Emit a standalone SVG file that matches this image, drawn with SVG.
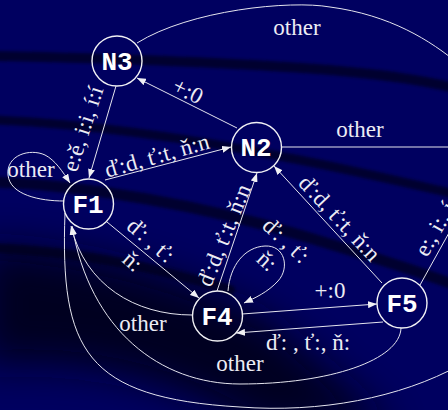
<svg xmlns="http://www.w3.org/2000/svg" width="448" height="410" viewBox="0 0 448 410">
<defs>
<style>
.e{fill:none;stroke:#e4e4ee;stroke-width:1}
.n{fill:none;stroke:#f0f0f4;stroke-width:1.4}
.lbl{font-family:"Liberation Serif","Times New Roman",serif;font-size:23px;fill:#ececf4}
.c{text-anchor:middle}
.nl{font-family:"Liberation Mono","Courier New",monospace;font-weight:bold;font-size:26px;fill:#ffffff;text-anchor:middle}
.band{fill:none;stroke:#000018;stroke-linecap:round}
</style>
<marker id="ah" viewBox="0 0 9 7" refX="9" refY="3.5" markerWidth="9" markerHeight="7" markerUnits="userSpaceOnUse" orient="auto">
<path d="M0,0 L9,3.5 L0,7 z" fill="#f0f0f4"/>
</marker>
<filter id="blur" x="-50%" y="-50%" width="200%" height="200%"><feGaussianBlur stdDeviation="20"/></filter>
<filter id="blur2" x="-10%" y="-50%" width="120%" height="200%"><feGaussianBlur stdDeviation="1.5"/></filter>
</defs>
<g id="background">
<rect x="0" y="0" width="448" height="410" fill="#000060"/>
<path d="M-20,245 C100,252 200,285 270,322 L395,430 L260,430 C190,385 100,355 -20,365 Z" fill="#000012" opacity="0.85" filter="url(#blur)"/>
<g filter="url(#blur2)" opacity="0.65">
<path class="band" stroke-width="10" d="M-5,56 C100,58 224,62 330,70 C390,75 430,82 455,88"/>
<path class="band" stroke-width="9" d="M-5,120 C90,124 200,140 300,160 C370,174 420,186 455,194"/>
<path class="band" stroke-width="11" d="M-5,182 C90,186 200,205 300,235 C370,256 420,272 455,285"/>
<path class="band" stroke-width="10" d="M-5,248 C80,252 160,268 230,290"/>
</g>
</g>
<g id="connectors">
<path class="e" marker-end="url(#ah)" d="M116,86 L89,178"/>
<path class="e" marker-end="url(#ah)" d="M237,128 L137,78"/>
<path class="e" marker-end="url(#ah)" d="M105,180 L231,147"/>
<path class="e" marker-end="url(#ah)" d="M107,222 L199,298"/>
<path class="e" marker-end="url(#ah)" d="M217,291 L257,173"/>
<path class="e" marker-end="url(#ah)" d="M382,283 L274,166"/>
<path class="e" marker-end="url(#ah)" d="M242,314 L377,304"/>
<path class="e" marker-end="url(#ah)" d="M383,322 L236,333"/>
<path class="e" marker-end="url(#ah)" d="M228,291 C230,265 245,247 265,246 C285,245 290,268 278,281 C268,292 255,298 244,303"/>
<path class="e" marker-end="url(#ah)" d="M64,201 C40,201 10,195 8,175 C6,155 30,148 45,155 C55,160 63,172 70,183"/>
<path class="e" marker-end="url(#ah)" d="M192,315 C135,315 85,285 71,226"/>
<path class="e" marker-end="url(#ah)" d="M401,328 C400,360 330,384 240,384 C160,384 90,330 72,226"/>
<path class="e" d="M65,213 C60,350 85,398 240,407 C320,413 400,398 460,365"/>
<path class="e" d="M282,147 L470,147"/>
<path class="e" d="M137,43 C190,10 290,0 330,7 C390,15 430,40 460,65"/>
<path class="e" d="M420,285 L460,213"/>
</g>
<g id="edge-labels">
<text class="lbl c" x="297" y="35">other</text>
<text class="lbl c" x="360" y="137">other</text>
<text class="lbl c" x="31" y="177">other</text>
<text class="lbl c" x="143" y="331">other</text>
<text class="lbl c" x="240" y="371">other</text>
<text class="lbl c" x="330" y="298">+:0</text>
<text class="lbl c" x="308" y="350">ď: , ť:, ň:</text>
<text class="lbl c" transform="translate(90,131) rotate(-72)">e:ě, i:i, í:í</text>
<text class="lbl c" transform="translate(184.5,97.8) rotate(27)">+:0</text>
<text class="lbl c" transform="translate(159,163) rotate(-16)">ď:d, ť:t, ň:n</text>
<text class="lbl c" transform="translate(231,238) rotate(-68)">ď:d, ť:t, ň:n</text>
<text class="lbl c" transform="translate(334,223.5) rotate(47)">ď:d, ť:t, ň:n</text>
<text class="lbl c" transform="translate(146,246) rotate(41)"><tspan x="0" y="0">ď: , ť:</tspan><tspan x="0" y="28">ň:</tspan></text>
<text class="lbl c" transform="translate(281,246) rotate(43)"><tspan x="0" y="0">ď: , ť:</tspan><tspan x="0" y="28">ň:</tspan></text>
<text class="lbl" transform="translate(427,258) rotate(-60)">e:, i:, í:</text>
</g>
<g id="N3"><circle class="n" cx="117" cy="61" r="25"/><text class="nl" x="117" y="70">N3</text></g>
<g id="N2"><circle class="n" cx="256.5" cy="147.5" r="25"/><text class="nl" x="256" y="156">N2</text></g>
<g id="F1"><circle class="n" cx="88.5" cy="204" r="25"/><text class="nl" x="88" y="213">F1</text></g>
<g id="F4"><circle class="n" cx="217.5" cy="316" r="25"/><text class="nl" x="217" y="325">F4</text></g>
<g id="F5"><circle class="n" cx="402" cy="303" r="25"/><text class="nl" x="402" y="312">F5</text></g>
</svg>
